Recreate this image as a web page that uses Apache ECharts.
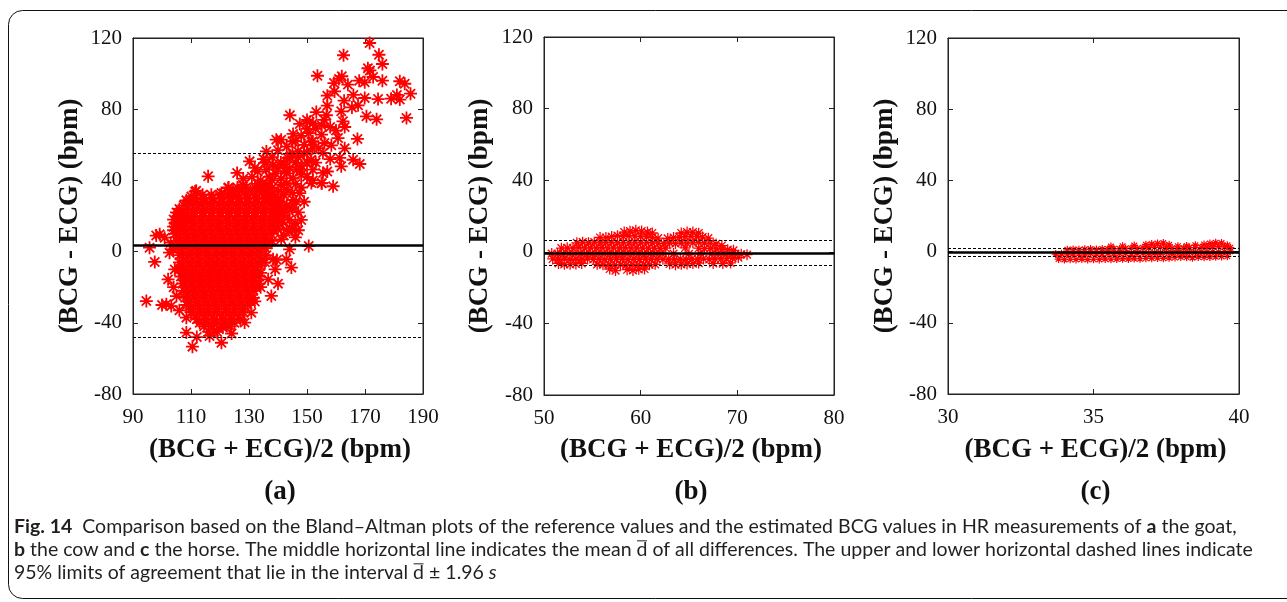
<!DOCTYPE html>
<html><head><meta charset="utf-8">
<script src="https://cdn.jsdelivr.net/npm/echarts@6/dist/echarts.min.js"></script>
<style>html,body{margin:0;padding:0;background:#fff}#c{width:1287px;height:602px}</style>
</head><body><div id="c"></div>
<script>
// ---------- data ----------
const yAxisSpec = [-80, 120, 40];           // min, max, interval (all panels)
const goatXSpec = [90, 190, 20];
const cowXSpec = [50, 80, 10];
const horseXSpec = [30, 40, 5];
const panelLabels = ['(a)', '(b)', '(c)'];
const xTitle = '(BCG + ECG)/2 (bpm)';
const yTitle = '(BCG - ECG) (bpm)';
// mean, upper limit, lower limit
const goatLimits = [3.4, 55, -48.3];
const cowLimits = [-0.6, 6.6, -7.4];
const horseLimits = [-0.2, 2.0, -2.5];

const goatSparse = [
[171.6,117.2],[162.6,110.3],[174.8,110.6],[176,105.4],[171.7,101.8],[153.6,98.8],[162,98.5],[172.8,98.1],[159.3,94.7],[169.9,95.1],[164.1,93.8],[182,95.7],[183.7,94.3],[159.5,90],[157,87.6],[185.7,88.7],[162.8,84.8],[169.9,86.3],[174.5,85.7],[179,85.9],[182,85.4],[167.6,82.2],[165.5,81],[161.8,78.8],[144.1,76.6],[153.2,78.4],[156.7,76.6],[170.5,76],[174,74.3],[184.3,75.1],[162.4,73.2],[147.5,71.7],[150.9,72.8],[155,71],[145.2,66.1],[150.6,66.6],[155,65.7],[160.7,63.8],[167.4,63.3],[141.1,62.9],[151.5,61.6],[158.4,59.7],[146.9,56.3],[155.5,55.4],[143.4,52.6],[151.5,51.6],[161.3,52.6],[165.9,51.6],[168.2,49.2],[161.8,47.9],[148,48.3],[155.5,44.2],[155,38.5],[159,36.7],[151.5,38.5],[147.5,32.9],[146.3,28.2],[144.6,24.5],[142.3,22.6],[142.3,45.1],[145.2,41.3],[141.1,37.6],[148,43.2],
[115.9,42.3],[125.9,44.2],[130.2,50.7],[136,56.3],[139.4,62.9],[135.4,49.8],[138.3,48.8],[120.5,32.9],[122.8,35.7],[111.8,34.2],[110.1,31],[108.4,28.8],[114.1,28.2],[105.5,21.7],[124.5,32],[127.9,37.6],
[95.7,2.2],[97.5,-5.8],[94.6,-27.8],[99.2,9.7],[100.9,7.8],[102.6,-0.6],[103.8,1.3],[104.4,-10],[102.1,-15.6],[101.5,-29.6],[103.2,-30.6],[108.4,-37.1],[108.4,-45.5],[110.5,-53.4],[116.4,-47.4],[120.5,-51.2],[121,-42.7],[128.5,-39.9],[130.8,-34.3],[137.7,-24.9],[136.6,-15.6],[138.3,-4.3],[106.1,14.4],
[150.6,3.1],[144.6,-9],[142.9,-4.3],[144,1.3],[148,17.8],[144.6,12.5],[141.1,6.9],[141.7,16.3],
[111.4,33.7],[107.4,20.6],[143,12.2],[139.6,-4.7],[145.3,29],[146.5,45.9],[143,38.4],[155.1,38.4],[140,30],[138,40],[133,45],[128,41],[136,35],[140,25],[142,32],[132,-28],[134,-20],[139,-10],[140,-18],[112,-48],[118,-45],[124,-46],[105,-25],[104,-20],[106,-33],[100,-30],[98,9],[104,12],[103,5],[146,8],[147,22],[149,28],[152,40],[157,45],[158,52],[163,58],[160,68],[163,70],[152,58],[149,60],[145,55],[141,50],[153,69],[157,82],[166,88],[168,96],[176,96],[181,88],[171,103],[161,97],[150,74],[145,62]
];

const goatBand = [
[136,38],[138,36],[140,34],[137,42],[139,44],[141,41],[143,44],[140,47],[142,49],[144,47],[146,50],[144,53],[147,53],[149,55],[150,50],[148,46],[146,38],[143,35],[145,33],[148,36],[150,42],[152,46],[153,50],[150,56],[154,58],[152,62],[156,61],[141,28],[143,26],[145,24],[142,20],[144,18],[146,16],[145,12],[147,12],[142,9],[140,13],[139,21],[141,23],[137,30],[134,40],[131,42],[133,38],[136,46],[132,47],[135,52],[138,53],[140,57],[143,59],[146,62],[148,65],[150,69],[152,72],[156,74],[158,70]
];

const goatCore = [
[123,36],[126,36],[129,36],[132,36],[135,36],
[114,32],[117,32],[120,32],[123,32],[126,32],[129,32],[132,32],[135,32],[138,32],
[109,28],[112,28],[115,28],[118,28],[121,28],[124,28],[127,28],[130,28],[133,28],[136,28],[139,28],
[106,24],[109,24],[112,24],[115,24],[118,24],[121,24],[124,24],[127,24],[130,24],[133,24],[136,24],[139,24],
[105.5,20],[108.5,20],[111.5,20],[114.5,20],[117.5,20],[120.5,20],[123.5,20],[126.5,20],[129.5,20],[132.5,20],[135.5,20],[138.5,20],
[105,16],[108,16],[111,16],[114,16],[117,16],[120,16],[123,16],[126,16],[129,16],[132,16],[135,16],[138,16],
[105.5,12],[108.5,12],[111.5,12],[114.5,12],[117.5,12],[120.5,12],[123.5,12],[126.5,12],[129.5,12],[132.5,12],[135.5,12],[138.5,12],
[106,8],[109,8],[112,8],[115,8],[118,8],[121,8],[124,8],[127,8],[130,8],[133,8],[136,8],
[106.5,4],[109.5,4],[112.5,4],[115.5,4],[118.5,4],[121.5,4],[124.5,4],[127.5,4],[130.5,4],[133.5,4],[136.5,4],
[107,0],[110,0],[113,0],[116,0],[119,0],[122,0],[125,0],[128,0],[131,0],[134,0],
[107.5,-4],[110.5,-4],[113.5,-4],[116.5,-4],[119.5,-4],[122.5,-4],[125.5,-4],[128.5,-4],[131.5,-4],[134.5,-4],
[107,-8],[110,-8],[113,-8],[116,-8],[119,-8],[122,-8],[125,-8],[128,-8],[131,-8],[134,-8],
[107.5,-12],[110.5,-12],[113.5,-12],[116.5,-12],[119.5,-12],[122.5,-12],[125.5,-12],[128.5,-12],[131.5,-12],[134,-12],
[108,-16],[111,-16],[114,-16],[117,-16],[120,-16],[123,-16],[126,-16],[129,-16],[132,-16],
[108.5,-20],[111.5,-20],[114.5,-20],[117.5,-20],[120.5,-20],[123.5,-20],[126.5,-20],[129.5,-20],[132.5,-20],
[109,-24],[112,-24],[115,-24],[118,-24],[121,-24],[124,-24],[127,-24],[130,-24],
[109.5,-28],[112.5,-28],[115.5,-28],[118.5,-28],[121.5,-28],[124.5,-28],[127.5,-28],[130.5,-28],
[110,-32],[113,-32],[116,-32],[119,-32],[122,-32],[125,-32],[128,-32],
[111.5,-36],[114.5,-36],[117.5,-36],[120.5,-36],[123.5,-36],[126.5,-36],
[113,-40],[116,-40],[119,-40],[122,-40],[125,-40]
];

const goatCoreFill = [
[124.5,34],[127.5,34],[130.5,34],[133.5,34],[136.5,34],
[111.5,30],[114.5,30],[117.5,30],[120.5,30],[123.5,30],[126.5,30],[129.5,30],[132.5,30],[135.5,30],[138.5,30],
[107.5,26],[110.5,26],[113.5,26],[116.5,26],[119.5,26],[122.5,26],[125.5,26],[128.5,26],[131.5,26],[134.5,26],[137.5,26],[140.5,26],
[105,22],[108,22],[111,22],[114,22],[117,22],[120,22],[123,22],[126,22],[129,22],[132,22],[135,22],[138,22],
[104,18],[107,18],[110,18],[113,18],[116,18],[119,18],[122,18],[125,18],[128,18],[131,18],[134,18],[137,18],[140,18],
[104,14],[107,14],[110,14],[113,14],[116,14],[119,14],[122,14],[125,14],[128,14],[131,14],[134,14],[137,14],[139.5,14],
[104.5,10],[107.5,10],[110.5,10],[113.5,10],[116.5,10],[119.5,10],[122.5,10],[125.5,10],[128.5,10],[131.5,10],[134.5,10],[137.5,10],
[105,6],[108,6],[111,6],[114,6],[117,6],[120,6],[123,6],[126,6],[129,6],[132,6],[135,6],[138,6],
[105.5,2],[108.5,2],[111.5,2],[114.5,2],[117.5,2],[120.5,2],[123.5,2],[126.5,2],[129.5,2],[132.5,2],[135.5,2],
[106,-2],[109,-2],[112,-2],[115,-2],[118,-2],[121,-2],[124,-2],[127,-2],[130,-2],[133,-2],[136,-2],
[106,-6],[109,-6],[112,-6],[115,-6],[118,-6],[121,-6],[124,-6],[127,-6],[130,-6],[133,-6],[135.5,-6],
[106,-10],[108.5,-10],[111.5,-10],[114.5,-10],[117.5,-10],[120.5,-10],[123.5,-10],[126.5,-10],[129.5,-10],[132.5,-10],
[106.5,-14],[109.5,-14],[112.5,-14],[115.5,-14],[118.5,-14],[121.5,-14],[124.5,-14],[127.5,-14],[130.5,-14],[133.5,-14],
[107,-18],[110,-18],[113,-18],[116,-18],[119,-18],[122,-18],[125,-18],[128,-18],[131,-18],[133.5,-18],
[107.5,-22],[110.5,-22],[113.5,-22],[116.5,-22],[119.5,-22],[122.5,-22],[125.5,-22],[128.5,-22],[131.5,-22],
[108,-26],[111,-26],[114,-26],[117,-26],[120,-26],[123,-26],[126,-26],[129,-26],[131.5,-26],
[108.5,-30],[111.5,-30],[114.5,-30],[117.5,-30],[120.5,-30],[123.5,-30],[126.5,-30],[129.5,-30],
[110,-34],[113,-34],[116,-34],[119,-34],[122,-34],[125,-34],[128,-34],
[112,-38],[115,-38],[118,-38],[121,-38],[124,-38],[127,-38],
[114.5,-42],[117.5,-42],[120.5,-42],[123.5,-42],
[116,-45],[119,-45]
];

const cowPoints = [
[58.3,11],[58.9,11.5],[59.5,12],[60.1,11.6],[60.7,11],[61.2,10.5],[64.2,10.5],[64.8,11],[65.4,11],[66,10.4],
[55.8,8],[56.4,8],[57,8.5],[57.6,9],[58.2,8.6],[58.8,9],[59.4,8.8],[60,8.5],[60.6,8.3],[61.2,8],[61.8,7.6],[62.8,7.5],[63.4,8],[64,8.3],[64.6,8.4],[65.2,8.6],[65.8,8.5],[66.4,8.2],[67,7.6],
[53.4,5],[54,5.4],[54.6,5],[55.2,5.4],[55.8,5],[56.4,5.2],[57,5.4],[57.6,5],[58.2,5.3],[58.8,5],[59.4,5.4],[60,5],[60.6,5.2],[61.2,5],[61.8,4.8],[62.4,4.6],[63,5],[63.6,4.6],[64.2,5],[64.8,4.8],[65.4,5],[66,5.2],[66.6,4.8],[67.2,4.8],[67.8,4.4],[68.4,3.5],
[51.8,2],[52.4,2.2],[53,2],[53.6,2.4],[54.2,2],[54.8,2.2],[55.4,2],[56,2.3],[56.6,2],[57.2,2.2],[57.8,2],[58.4,2.3],[59,2],[59.6,2.2],[60.2,2],[60.8,2.1],[61.4,2],[62,1.8],[62.6,2],[64.6,2.2],[66,2],[66.6,1.8],[67.2,2],[67.8,1.6],[68.4,1.5],[69,1.2],[69.6,0.8],
[50.8,-1],[51.4,-1],[52,-1.2],[52.6,-1],[53.2,-1.1],[53.8,-1],[54.4,-1.2],[55,-1],[55.6,-1],[56.2,-1.1],[56.8,-1],[57.4,-1.2],[58,-1],[58.6,-1],[59.2,-1.1],[59.8,-1],[60.4,-1.2],[61,-1],[61.6,-1],[62.2,-1.1],[63.4,-1],[65,-1.2],[66.2,-1],[67.4,-1],[68,-1.1],[68.6,-1],[69.2,-1],[69.8,-1.2],[70.4,-1.4],[71,-1.6],
[50.9,-4],[51.5,-4.2],[52.1,-4],[52.7,-4.3],[53.3,-4],[53.9,-4.2],[54.5,-4],[55.1,-4.2],[55.7,-4],[56.3,-4.3],[56.9,-4],[57.5,-4.2],[58.1,-4],[58.7,-4.3],[59.3,-4],[59.9,-4.2],[60.5,-4],[61.1,-4.3],[61.7,-4],[62.3,-4.2],[62.9,-4],[63.5,-4.3],[64.1,-4],[64.7,-4.2],[65.3,-4],[65.9,-4.1],[66.5,-4],[67.1,-4.2],[67.7,-4],[68.3,-4],[68.9,-3.8],[69.5,-3.6],[70.1,-3.2],
[51.5,-6.5],[52.1,-7],[52.7,-7],[53.3,-6.8],[53.9,-6.5],[55.5,-7],[56.1,-7.2],[56.7,-7],[57.3,-7.4],[57.9,-7.2],[58.5,-7.5],[59.1,-7.2],[59.7,-7.4],[60.3,-7],[60.9,-7.3],[61.5,-7],[63,-6.8],[63.6,-7.2],[64.2,-7],[64.8,-6.8],[65.4,-6.6],[66,-6.3],[67.5,-6.5],[68.5,-6.6],[69.3,-6.2],
[56.8,-9.6],[57.4,-10.5],[58.6,-10],[59.2,-10.4],[59.8,-9.8],[60.4,-9.6]
];

const horsePoints = [
[33.8,-4.2],[34.0,-4.5],[34.2,-4.3],[34.4,-4.4],[34.6,-4.2],[34.8,-4.5],[35.0,-4.3],[35.2,-4.4],[35.4,-4.1],[35.6,-4.3],[35.8,-4.2],[36.0,-4.0],[36.2,-4.2],[36.4,-3.9],[36.6,-4.0],[36.8,-3.8],[37.0,-3.7],[37.2,-3.6],[37.4,-3.8],[37.6,-3.5],[37.8,-3.3],[38.0,-3.0],[38.2,-3.2],[38.4,-3.4],[38.6,-3.1],[38.8,-3.2],[39.0,-3.0],[39.2,-2.9],[39.4,-2.8],[39.6,-2.6],
[33.7,-1.4],[33.9,-1.2],[34.1,-1.5],[34.3,-1.3],[34.5,-1.2],[34.7,-1.4],[34.9,-1.1],[35.1,-1.3],[35.3,-1.2],[35.5,-1.0],[35.7,-1.3],[35.9,-1.1],[36.1,-1.0],[36.3,-1.2],[36.5,-0.9],[36.7,-0.8],[36.9,-0.9],[37.1,-0.6],[37.3,-0.7],[37.5,-0.5],[37.7,-0.6],[37.9,-0.4],[38.1,-0.5],[38.3,-0.3],[38.5,-0.4],[38.7,-0.2],[38.9,-0.3],[39.1,-0.1],[39.3,-0.2],[39.5,0.0],[39.7,0.2],
[34.1,1.0],[34.3,1.2],[34.5,1.0],[34.7,1.3],[34.9,1.4],[35.1,1.2],[35.3,1.5],[35.5,1.4],[35.7,1.6],[35.9,1.5],[36.1,1.7],[36.3,1.9],[36.5,1.8],[36.7,2.1],[36.9,2.2],[37.1,2.4],[37.3,2.3],[37.5,2.1],[37.7,1.9],[37.9,1.8],[38.1,2.0],[38.3,2.2],[38.5,2.3],[38.7,2.4],[38.9,2.5],[39.1,2.7],[39.3,2.8],[39.5,2.6],[39.7,2.2],
[35.6,2.8],[36.0,3.0],[36.4,3.4],[36.8,3.9],[37.0,4.2],[37.2,4.6],[37.4,4.8],[37.6,3.8],[37.9,3.0],[38.2,3.2],[38.5,3.6],[38.8,4.0],[39.0,4.5],[39.2,5.0],[39.4,4.8],[39.6,3.6]
];

// ---------- chart ----------
const chart = echarts.init(document.getElementById('c'), null, {renderer: 'canvas'});
const serif = '"Liberation Serif", "Times New Roman", serif';
const asterisk = 'path://M5 0L5 10M0 5L10 5M1.46 1.46L8.54 8.54M1.46 8.54L8.54 1.46';
const grids = [
  {left: 133, top: 38, width: 290, height: 356},
  {left: 544, top: 37, width: 290, height: 358},
  {left: 948, top: 38, width: 291, height: 356}
];
const yTitleX = [70, 480, 885];
const xSpecs = [goatXSpec, cowXSpec, horseXSpec];
const limits = [goatLimits, cowLimits, horseLimits];

const xAxes = [], yAxes = [], series = [];
grids.forEach((g, i) => {
  const xs = xSpecs[i];
  const common = {type: 'value', gridIndex: i, splitLine: {show: false},
    axisLine: {show: true, onZero: false, lineStyle: {color: '#222', width: 1}},
    axisTick: {show: true, inside: true, length: 5, lineStyle: {color: '#222'}}};
  xAxes.push(Object.assign({}, common, {position: 'bottom', min: xs[0], max: xs[1], interval: xs[2],
    axisLabel: {margin: 13, fontFamily: serif, fontSize: 21, color: '#111'}}));
  xAxes.push(Object.assign({}, common, {position: 'top', min: xs[0], max: xs[1], interval: xs[2], axisLabel: {show: false}}));
  yAxes.push(Object.assign({}, common, {position: 'left', min: yAxisSpec[0], max: yAxisSpec[1], interval: yAxisSpec[2],
    axisLabel: {margin: 11, fontFamily: serif, fontSize: 21, color: '#111'}}));
  yAxes.push(Object.assign({}, common, {position: 'right', min: yAxisSpec[0], max: yAxisSpec[1], interval: yAxisSpec[2], axisLabel: {show: false}}));
});

function limitLines(l) {
  return {symbol: 'none', silent: true, z: 5, label: {show: false}, emphasis: {disabled: true},
    data: [
      {yAxis: l[0], lineStyle: {type: 'solid', width: 2.6, color: '#000'}},
      {yAxis: l[1], lineStyle: {type: [3, 2], width: 1, color: '#000'}},
      {yAxis: l[2], lineStyle: {type: [3, 2], width: 1, color: '#000'}}
    ]};
}
const pointSets = [[goatCore, goatCoreFill, goatBand, goatSparse], [cowPoints], [horsePoints]];
const symSizes = [13, 11, 8];
const strokeW = [1.8, 1.3, 1.2];
pointSets.forEach((sets, i) => {
  sets.forEach((pts, k) => {
    series.push({type: 'scatter', xAxisIndex: i * 2, yAxisIndex: i * 2, data: pts,
      symbol: asterisk, symbolSize: symSizes[i], z: 2,
      itemStyle: {color: 'rgba(255,0,0,0)', borderColor: '#ff0000', borderWidth: strokeW[i], opacity: 1},
      emphasis: {disabled: true},
      markLine: k === sets.length - 1 ? limitLines(limits[i]) : undefined});
  });
});

// caption
const capFS = 19.5;
const captionFont = 'Lato';
const capColor = '#231f20';
const capRich = {
  b: {fontFamily: captionFont, fontWeight: 'bold', fontSize: capFS, fill: capColor},
  i: {fontFamily: captionFont, fontStyle: 'italic', fontSize: capFS, fill: capColor}
};
const capLines = [
  [['b', 'Fig. 14'], ['r', '  Comparison based on the Bland\u2013Altman plots of the reference values and the estimated BCG values in HR measurements of '], ['b', 'a'], ['r', ' the goat,']],
  [['b', 'b'], ['r', ' the cow and '], ['b', 'c'], ['r', ' the horse. The middle horizontal line indicates the mean '], ['d', 'd'], ['r', ' of all differences. The upper and lower horizontal dashed lines indicate']],
  [['r', '95% limits of agreement that lie in the interval '], ['d', 'd'], ['r', ' \u00b1 1.96 '], ['i', 's']]
];
const mctx = document.createElement('canvas').getContext('2d');
function fontOf(kind) {
  if (kind === 'b') return 'bold ' + capFS + 'px ' + captionFont;
  if (kind === 'i') return 'italic ' + capFS + 'px ' + captionFont;
  return capFS + 'px ' + captionFont;
}
const graphic = [
  {type: 'rect', shape: {x: 8.5, y: 10.5, width: 1300, height: 588, r: 14}, style: {fill: 'none', stroke: '#111', lineWidth: 1}, silent: true}
];
grids.forEach((g, i) => {
  const cx = g.left + g.width / 2 + 2;
  graphic.push({type: 'text', x: cx, y: 450, silent: true,
    style: {text: xTitle, font: 'bold 27px ' + serif, fill: '#111', textAlign: 'center', textVerticalAlign: 'middle'}});
  graphic.push({type: 'text', x: yTitleX[i], y: g.top + g.height / 2, rotation: Math.PI / 2, silent: true,
    style: {text: yTitle, font: 'bold 27px ' + serif, fill: '#111', textAlign: 'center', textVerticalAlign: 'middle'}});
  graphic.push({type: 'text', x: cx, y: 492, silent: true,
    style: {text: panelLabels[i], font: 'bold 27px ' + serif, fill: '#111', textAlign: 'center', textVerticalAlign: 'middle'}});
});
capLines.forEach((segs, i) => {
  const y = 527 + i * 23;
  let x = 14;
  let str = '';
  segs.forEach(([kind, t]) => {
    mctx.font = fontOf(kind);
    const w = mctx.measureText(t).width;
    if (kind === 'd') {
      graphic.push({type: 'line', silent: true, shape: {x1: x + 0.5, y1: y - capFS * 0.47, x2: x + w - 0.5, y2: y - capFS * 0.47},
        style: {stroke: capColor, lineWidth: 1}});
      str += t;
    } else if (kind === 'r') {
      str += t;
    } else {
      str += '{' + kind + '|' + t + '}';
    }
    x += w;
  });
  graphic.push({type: 'text', x: 14, y: y, silent: true,
    style: {text: str, rich: capRich, font: capFS + 'px ' + captionFont, fill: capColor, textAlign: 'left', textVerticalAlign: 'middle'}});
});

chart.setOption({
  animation: false,
  backgroundColor: '#fff',
  grid: grids.map(g => Object.assign({show: true, borderColor: '#222', borderWidth: 1, backgroundColor: 'transparent'}, g)),
  xAxis: xAxes,
  yAxis: yAxes,
  series: series,
  graphic: graphic
});
</script></body></html>
